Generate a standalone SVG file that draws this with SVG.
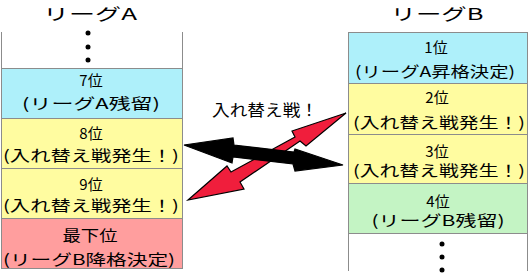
<svg xmlns="http://www.w3.org/2000/svg" width="532" height="275" viewBox="0 0 532 275">
<style>
text{font-family:"Noto Sans CJK JP","Noto Sans",sans-serif;fill:#000;text-anchor:middle}
.h{font-size:16px}
.t{font-size:15px}
.box{stroke:#8c8c8c;stroke-width:1}
.side{stroke:#8c8c8c;stroke-width:1;fill:none}
.cy{fill:#aef0fa}.ye{fill:#fffca0}.pk{fill:#ff9e9e}.gr{fill:#c4f4c4}
</style>
<rect width="532" height="275" fill="#fff"/>
<g id="headerA"><text class="h" x="90" y="20" textLength="94" lengthAdjust="spacingAndGlyphs">リーグA</text></g>
<g id="headerB"><text class="h" x="437" y="20" textLength="93" lengthAdjust="spacingAndGlyphs">リーグB</text></g>
<g id="leagueA">
<g id="a-top"><path class="side" d="M1.5 32V68M182.5 32V68"/><circle cx="88" cy="33" r="2.5"/><circle cx="88" cy="47" r="2.5"/><circle cx="88" cy="60" r="2.5"/></g>
<g id="a7"><rect class="box cy" x="1.5" y="68.5" width="181" height="50"/><text class="t" x="91" y="86">7位</text><text class="t" x="91" y="109" textLength="138" lengthAdjust="spacingAndGlyphs">(リーグA残留)</text></g>
<g id="a8"><rect class="box ye" x="1.5" y="118.5" width="181" height="50"/><text class="t" x="91" y="139">8位</text><text class="t" x="91" y="161" textLength="176" lengthAdjust="spacingAndGlyphs">(入れ替え戦発生！)</text></g>
<g id="a9"><rect class="box ye" x="1.5" y="168.5" width="181" height="50"/><text class="t" x="91" y="190">9位</text><text class="t" x="91" y="211" textLength="176" lengthAdjust="spacingAndGlyphs">(入れ替え戦発生！)</text></g>
<g id="aLast"><rect class="box pk" x="1.5" y="218.5" width="181" height="50"/><text class="t" x="90" y="241" textLength="55" lengthAdjust="spacingAndGlyphs">最下位</text><text class="t" x="89" y="265" textLength="172" lengthAdjust="spacingAndGlyphs">(リーグB降格決定)</text></g>
</g>
<g id="leagueB">
<g id="b1"><rect class="box cy" x="348.5" y="32.5" width="179" height="51"/><text class="t" x="436" y="53">1位</text><text class="t" x="435" y="77" textLength="160" lengthAdjust="spacingAndGlyphs">(リーグA昇格決定)</text></g>
<g id="b2"><rect class="box ye" x="348.5" y="83.5" width="179" height="51"/><text class="t" x="437" y="103">2位</text><text class="t" x="439" y="128" textLength="172" lengthAdjust="spacingAndGlyphs">(入れ替え戦発生！)</text></g>
<g id="b3"><rect class="box ye" x="348.5" y="134.5" width="179" height="49"/><text class="t" x="437" y="157">3位</text><text class="t" x="439" y="176" textLength="172" lengthAdjust="spacingAndGlyphs">(入れ替え戦発生！)</text></g>
<g id="b4"><rect class="box gr" x="348.5" y="183.5" width="179" height="50"/><text class="t" x="438" y="207">4位</text><text class="t" x="438" y="226" textLength="133" lengthAdjust="spacingAndGlyphs">(リーグB残留)</text></g>
<g id="b-bottom"><path class="side" d="M348.5 233V271M527.5 233V271"/><circle cx="442" cy="244" r="2.5"/><circle cx="442" cy="257" r="2.5"/><circle cx="442" cy="270" r="2.5"/></g>
</g>
<g id="label"><text x="265" y="116" style="font-size:16px" textLength="106" lengthAdjust="spacingAndGlyphs">入れ替え戦！</text></g>
<g id="connectors" stroke="#000" stroke-width="1.2" stroke-linejoin="miter">
<polygon id="redArrow" fill="#f01e3c" points="188,200 227,166 231,172 295,137 292,131 346,113 306,146 300,141 240,182 244,189"/>
<polygon id="blackArrow" fill="#000" points="184,145 233,138 234,145 294,152 295,149 343,165 295,171 293,164 233,157 232,163"/>
</g>
</svg>
